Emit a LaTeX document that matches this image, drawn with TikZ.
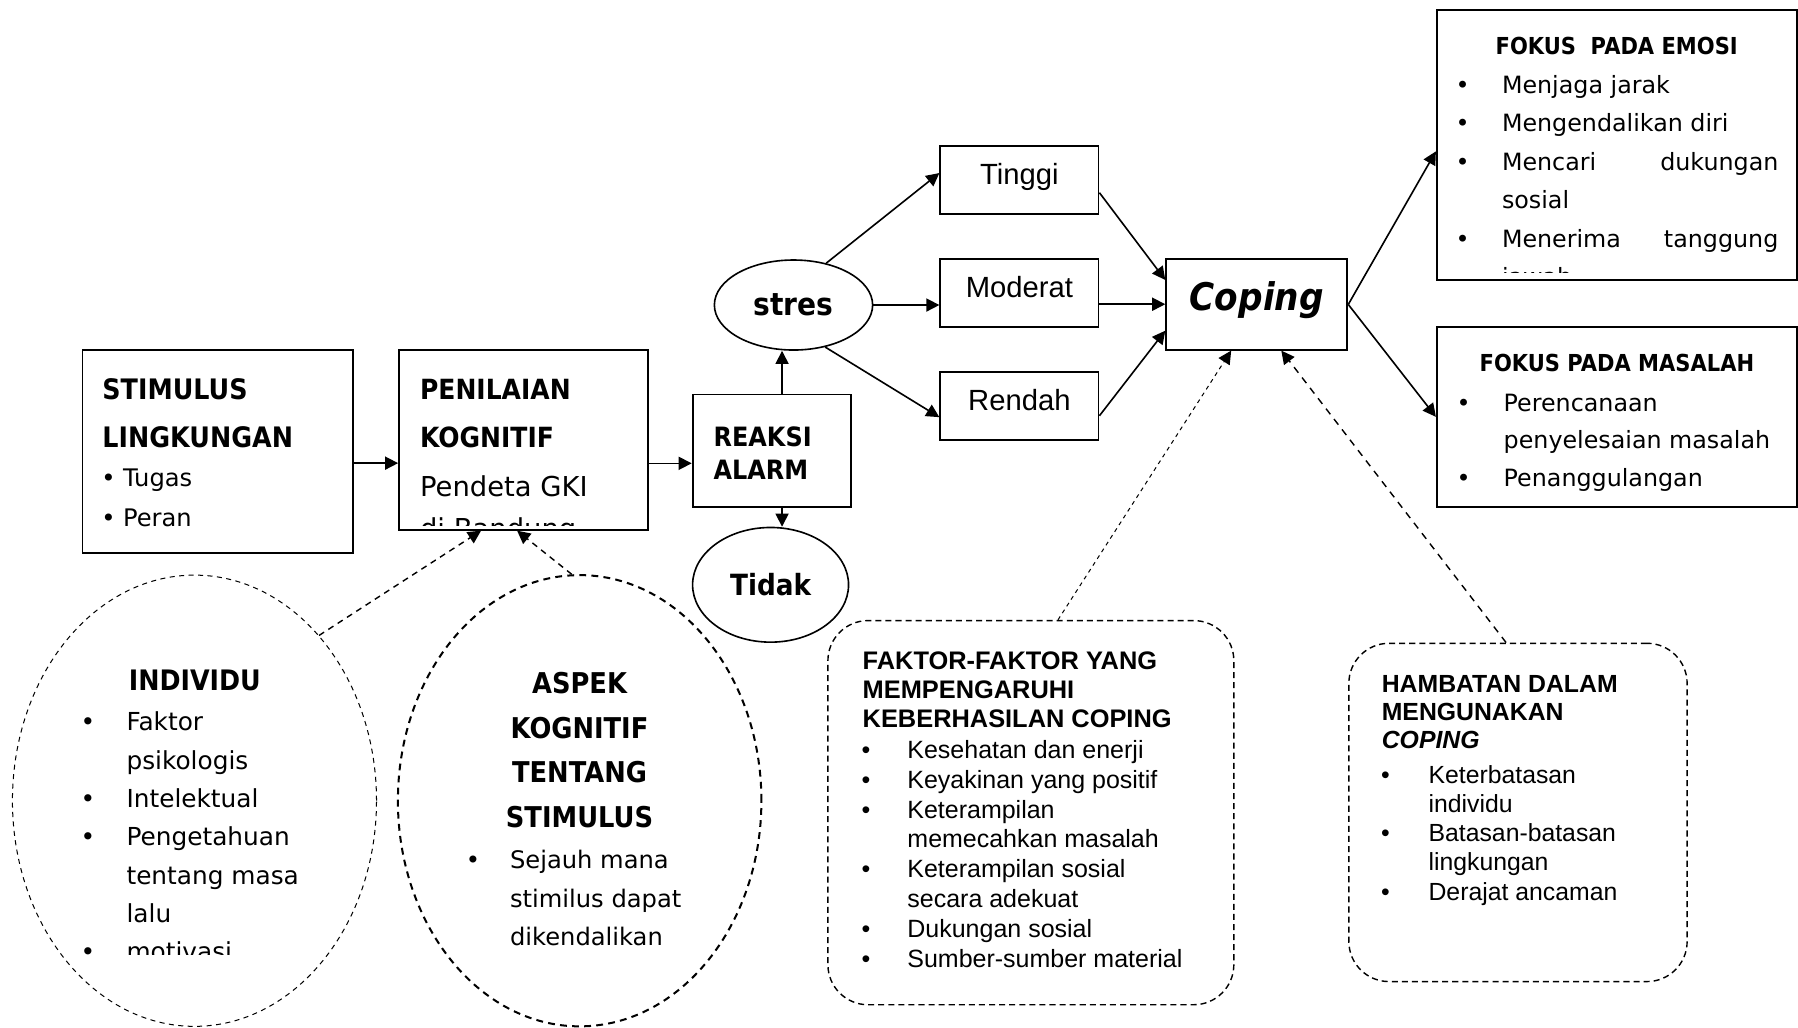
\documentclass[tikz,border=0pt]{standalone}
\usepackage{fontspec}
\setmainfont{DejaVu Sans}
\newfontfamily\tahomafont[FakeStretch=0.9]{DejaVu Sans}
\newfontfamily\arialfont{Liberation Sans}
\usetikzlibrary{arrows.meta,shapes.geometric}

\newcommand{\ukuran}[2]{\fontsize{#1}{#2}\selectfont}
\newcommand{\butir}[1]{\makebox[#1][l]{\textbullet}}

\begin{document}
\begin{tikzpicture}[x=0.2mm,y=-0.2mm,
    >={Triangle[length=6.5pt,width=6.5pt]},
    kotak/.style={draw,line width=0.9pt,inner sep=0pt},
    oval/.style={draw,ellipse,line width=0.8pt,inner sep=0pt},
    garis/.style={->,line width=0.8pt},
    teks/.style={anchor=north west,inner sep=0pt,align=left},
    judul/.style={font=\tahomafont\bfseries\ukuran{#1}{23.8}}]

  \useasboundingbox (0,0) rectangle (1568,896);

  % kotak
  \begin{scope}[every node/.style={kotak}]
    \node[minimum width=47.2mm,minimum height=35.4mm] (stimulus) at (190,393.5) {};
    \node[minimum width=43.4mm,minimum height=31.4mm] (penilaian) at (456.5,383.5) {};
    \node[minimum width=27.6mm,minimum height=19.6mm] (reaksi) at (673,393) {};
    \node[minimum width=62.8mm,minimum height=47mm] (emosi) at (1410,126.5) {};
    \node[minimum width=62.8mm,minimum height=31.4mm] (masalah) at (1410,363.5) {};
    \node[minimum width=31.6mm,minimum height=15.8mm,text height=14pt,text depth=7.8pt,
          font=\tahomafont\bfseries\itshape\ukuran{18.9}{22}] (coping) at (1096,265.5) {Coping};
  \end{scope}

  \begin{scope}[every node/.style={kotak,minimum width=27.6mm,minimum height=11.8mm,
      text height=10pt,text depth=5.6pt,font=\arialfont\ukuran{14.5}{17}}]
    \node (tinggi)  at (889,157)   {Tinggi};
    \node (moderat) at (889,255.5) {Moderat};
    \node (rendah)  at (889,354)   {Rendah};
  \end{scope}

  \begin{scope}[every node/.style={oval}]
    \node[minimum width=27.6mm,minimum height=15.7mm,font=\tahomafont\bfseries\ukuran{15.5}{18}] (stres) at (692,266) {stres};
    \node[minimum width=27.2mm,minimum height=20mm,font=\tahomafont\bfseries\ukuran{14.5}{18}] (tidak) at (672,510) {Tidak};
  \end{scope}

  % bentuk putus-putus
  \node[draw,ellipse,line width=0.5pt,dash pattern=on 2.5pt off 2.2pt,
        minimum width=63.5mm,minimum height=78.7mm] (individu) at (169.6,698.3) {};
  \node[draw,ellipse,line width=1pt,dash pattern=on 3.4pt off 2.6pt,
        minimum width=63.4mm,minimum height=78.7mm] (aspek) at (505.5,698.3) {};
  \node[draw,rounded corners=7mm,line width=0.7pt,dash pattern=on 3pt off 2pt,
        minimum width=70.8mm,minimum height=67mm] (faktor) at (899,708.7) {};
  \node[draw,rounded corners=7mm,line width=0.7pt,dash pattern=on 3pt off 2pt,
        minimum width=59mm,minimum height=59mm] (hambatan) at (1323.8,708.5) {};

  % teks
  \begin{scope}[every node/.style={teks}]
    \node[judul=14] (stimulus-judul) at (89,330) {STIMULUS\\LINGKUNGAN};
    \node[font=\ukuran{12}{19.8}] (stimulus-isi) at (88,408.4) {\butir{3.8mm}Tugas\\\butir{3.8mm}Peran};
    \node[judul=13.8] (penilaian-judul) at (366,330) {PENILAIAN\\KOGNITIF};
    \node[font=\tahomafont\bfseries\ukuran{13.2}{16.5}] (reaksi-judul) at (622,372) {REAKSI\\ALARM};
    \node[font=\tahomafont\bfseries\ukuran{11.6}{14}] (emosi-judul) at (1304,32) {FOKUS\ \ PADA EMOSI};
    \node[font=\tahomafont\bfseries\ukuran{11.6}{14}] (masalah-judul) at (1290,308.7) {FOKUS PADA MASALAH};
    \node[font=\ukuran{11.8}{18.7}] (masalah-isi) at (1270,343)
      {\butir{8.2mm}Perencanaan\\\hspace*{8.2mm}penyelesaian masalah\\\butir{8.2mm}Penanggulangan};
    \node[judul=14] (individu-judul) at (112,584.3) {INDIVIDU};
    \node[anchor=north,align=center,font=\tahomafont\bfseries\ukuran{14.2}{22.2}] (aspek-judul) at (505.4,585.8)
      {ASPEK\\KOGNITIF\\TENTANG\\STIMULUS};
    \node[font=\ukuran{12}{19}] (aspek-isi) at (406,741.3)
      {\butir{7.7mm}Sejauh mana\\\hspace*{7.7mm}stimilus dapat\\\hspace*{7.7mm}dikendalikan};
    \node[font=\arialfont\bfseries\ukuran{12.6}{14.2}] (faktor-judul) at (752,568.3)
      {FAKTOR-FAKTOR YANG\\MEMPENGARUHI\\KEBERHASILAN COPING};
    \node[font=\arialfont\ukuran{12.4}{14.8}] (faktor-isi) at (751,645.3)
      {\butir{8mm}Kesehatan dan enerji\\
       \butir{8mm}Keyakinan yang positif\\
       \butir{8mm}Keterampilan\\
       \hspace*{8mm}memecahkan masalah\\
       \butir{8mm}Keterampilan sosial\\
       \hspace*{8mm}secara adekuat\\
       \butir{8mm}Dukungan sosial\\
       \butir{8mm}Sumber-sumber material};
    \node[font=\arialfont\bfseries\ukuran{12.3}{14}] (hambatan-judul) at (1204.7,588.6)
      {HAMBATAN DALAM\\MENGUNAKAN\\\textit{COPING}};
    \node[font=\arialfont\ukuran{12.3}{14.5}] (hambatan-isi) at (1204,667.1)
      {\butir{8.3mm}Keterbatasan\\\hspace*{8.3mm}individu\\
       \butir{8.3mm}Batasan-batasan\\\hspace*{8.3mm}lingkungan\\
       \butir{8.3mm}Derajat ancaman};
  \end{scope}

  % teks yang terpotong
  \begin{scope}
    \clip ([xshift=1pt,yshift=-1pt]penilaian.north west) rectangle ([xshift=-1pt,yshift=2.8pt]penilaian.south east);
    \node[teks,font=\ukuran{13.6}{21}] (penilaian-isi) at (366,414.3) {Pendeta GKI\\di Bandung};
  \end{scope}
  \begin{scope}
    \clip ([xshift=1pt,yshift=-1pt]emosi.north west) rectangle ([xshift=-1pt,yshift=4pt]emosi.south east);
    \node[teks,font=\ukuran{11.8}{19.1}] (emosi-isi) at (1269,65.4)
      {\butir{8.1mm}Menjaga jarak\\
       \butir{8.1mm}Mengendalikan diri\\
       \butir{8.1mm}\makebox[48.2mm][s]{Mencari\hfill dukungan}\\
       \hspace*{8.1mm}sosial\\
       \butir{8.1mm}\makebox[48.2mm][s]{Menerima\hfill tanggung}\\
       \hspace*{8.1mm}jawab};
  \end{scope}
  \begin{scope}
    \clip (0,560) rectangle (340,832.8);
    \node[teks,font=\ukuran{12.3}{19}] (individu-isi) at (70,620.6)
      {\butir{8mm}Faktor\\\hspace*{8mm}psikologis\\\butir{8mm}Intelektual\\
       \butir{8mm}Pengetahuan\\\hspace*{8mm}tentang masa\\\hspace*{8mm}lalu\\
       \butir{8mm}motivasi};
  \end{scope}

  % panah
  \coordinate (naik)  at ([xshift=1.8mm]reaksi.north);
  \coordinate (turun) at ([xshift=1.8mm]reaksi.south);
  \draw[garis] (stimulus.-5) -- (stimulus.-5 -| penilaian.west);
  \draw[garis] (penilaian.east |- reaksi.189) -- (reaksi.189);
  \draw[garis] (naik) -- (naik |- stres.south);
  \draw[garis] (turun) -- (turun |- tidak.north);
  \draw[garis] (stres.52) -- (tinggi.175);
  \draw[garis] (stres.east) -- (stres.east -| moderat.west);
  \draw[garis] (stres.-53) -- (rendah.188);
  \draw[garis] (tinggi.-9) -- (coping.165);
  \draw[garis] (moderat.-8) -- (moderat.-8 -| coping.west);
  \draw[garis] (rendah.-7) -- (coping.196);
  \draw[garis] (coping.east) -- (emosi.182);
  \draw[garis] (coping.east) -- (masalah.west);

  \draw[garis,line width=0.7pt,dash pattern=on 3pt off 2.5pt] (individu.53) -- (penilaian.245);
  \draw[garis,line width=0.7pt,dash pattern=on 3pt off 2.5pt] (aspek.92) -- (penilaian.266);
  \draw[garis,line width=0.5pt,dash pattern=on 2pt off 2pt] (faktor.82) -- (coping.241);
  \draw[garis,line width=0.7pt,dash pattern=on 3.5pt off 3pt] (hambatan.94) -- (coping.-62);

\end{tikzpicture}
\end{document}
